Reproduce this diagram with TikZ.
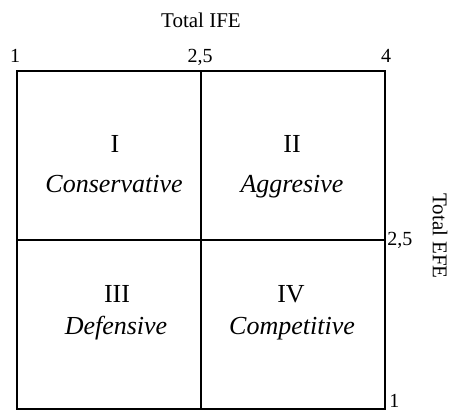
\documentclass[tikz,border=0pt]{standalone}
\usepackage{fontspec}
\setmainfont{Liberation Serif}
\begin{document}
\begin{tikzpicture}[x=0.75pt,y=-0.75pt,
  axislbl/.style={font=\fontsize{15.75pt}{18pt}\selectfont, inner sep=0pt},
  ticklbl/.style={font=\fontsize{15pt}{17pt}\selectfont, inner sep=0pt, anchor=base},
  numlbl/.style={font=\fontsize{19.5pt}{22pt}\selectfont, inner sep=0pt, anchor=base},
  namelbl/.style={font=\fontsize{19.5pt}{22pt}\selectfont\itshape, inner sep=0pt, anchor=base},
  gridline/.style={line width=1.6pt, line cap=rect}]
\useasboundingbox (0,0) rectangle (449,410);
% grid corners
\coordinate (tl) at (17,71);
\coordinate (tm) at (201,71);
\coordinate (tr) at (385,71);
\coordinate (ml) at (17,240);
\coordinate (mr) at (385,240);
\coordinate (bl) at (17,409);
\coordinate (bm) at (201,409);
\coordinate (br) at (385,409);
\draw[gridline] (tl) -- (tr) -- (br) -- (bl) -- cycle;
\draw[gridline] (tm) -- (bm);
\draw[gridline] (ml) -- (mr);
% axis labels
\node[axislbl, anchor=base] (ife) at (201,28) {Total IFE};
\node[axislbl, rotate=-90] (efe) at (440,236) {Total EFE};
% ticks
\node[ticklbl] (t1) at (15,63) {1};
\node[ticklbl] (t25) at (200,63) {2,5};
\node[ticklbl] (t4) at (386,63) {4};
\node[ticklbl, anchor=base west] (r25) at (387,245) {2,5};
\node[ticklbl, anchor=base west] (r1) at (389,407) {1};
% quadrant labels
\node[numlbl] (q1) at (115,152) {I};
\node[namelbl] (q1n) at (114,192) {Conservative};
\node[numlbl] (q2) at (292,152) {II};
\node[namelbl] (q2n) at (292,192) {Aggresive};
\node[numlbl] (q3) at (117,302) {III};
\node[namelbl] (q3n) at (116,334) {Defensive};
\node[numlbl] (q4) at (291,302) {IV};
\node[namelbl] (q4n) at (292,334) {Competitive};
\end{tikzpicture}
\end{document}
